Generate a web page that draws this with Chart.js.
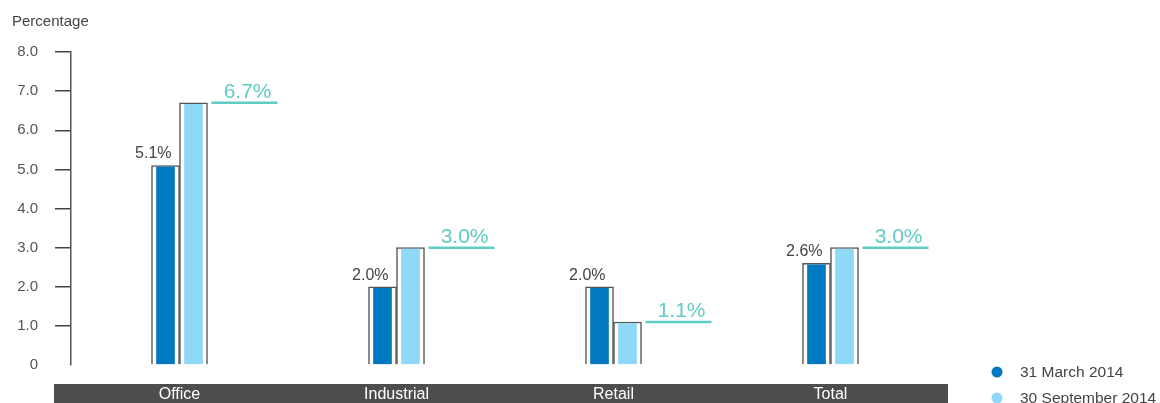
<!DOCTYPE html>
<html>
<head>
<meta charset="utf-8">
<script src="https://cdn.jsdelivr.net/npm/chart.js@4"></script>
<style>
  html, body { margin: 0; padding: 0; background: #fff; overflow: hidden; }
  canvas { display: block; }
</style>
</head>
<body>
<canvas id="chart" width="1160" height="403"></canvas>
<script>
const categories = ["Office", "Industrial", "Retail", "Total"];
const march2014 = [5.1, 2.0, 2.0, 2.6];
const september2014 = [6.7, 3.0, 1.1, 3.0];
const seriesLabels = ["31 March 2014", "30 September 2014"];
const yTickLabels = ["0", "1.0", "2.0", "3.0", "4.0", "5.0", "6.0", "7.0", "8.0"];

const darkBlue = "#0079c1";
const lightBlue = "#8fd8f7";
const teal = "#5fcdc2";
const outlineGray = "#555";
const textGray = "#555";
const FONT = "'Liberation Sans', Arial, sans-serif";

// coloured bars share a stack slot with a white outlined bar drawn underneath
const fillBorder = { top: 1.5, left: 5, right: 5, bottom: 0 };
const outlineBorder = { top: 1.5, left: 1.5, right: 1.5, bottom: 0 };

const extras = {
  id: "extras",
  beforeDraw(chart) {
    const ctx = chart.ctx;
    const area = chart.chartArea;
    ctx.save();
    ctx.fillStyle = "#4d4d4f";
    ctx.fillRect(area.left - 17, area.bottom + 19, area.right - area.left + 26, 40);
    ctx.restore();
  },
  afterDatasetsDraw(chart) {
    const ctx = chart.ctx;
    ctx.save();
    // dark series labels
    ctx.font = "16px " + FONT;
    ctx.fillStyle = "#444";
    ctx.textAlign = "right";
    ctx.textBaseline = "alphabetic";
    chart.getDatasetMeta(0).data.forEach((el, i) => {
      ctx.fillText(march2014[i].toFixed(1) + "%", el.x + 6, el.y - 7);
    });
    // light series labels with teal underline
    ctx.font = "21px " + FONT;
    ctx.fillStyle = teal;
    ctx.strokeStyle = teal;
    ctx.lineWidth = 2.5;
    chart.getDatasetMeta(1).data.forEach((el, i) => {
      const x0 = el.x + el.width / 2 + 4;
      const x1 = x0 + 66;
      ctx.beginPath();
      ctx.moveTo(x0, el.y);
      ctx.lineTo(x1, el.y);
      ctx.stroke();
      ctx.fillText(september2014[i].toFixed(1) + "%", x1 - 6, el.y - 5);
    });
    ctx.restore();
  },
  afterDraw(chart) {
    const ctx = chart.ctx;
    ctx.save();
    ctx.font = "15.5px " + FONT;
    ctx.textAlign = "left";
    ctx.textBaseline = "middle";
    [darkBlue, lightBlue].forEach((c, i) => {
      const y = 372 + i * 26;
      ctx.beginPath();
      ctx.arc(997, y, 5.5, 0, Math.PI * 2);
      ctx.fillStyle = c;
      ctx.fill();
      ctx.fillStyle = "#444";
      ctx.fillText(chart.data.datasets[i].label, 1020, y + 1);
    });
    ctx.restore();
  }
};

new Chart(document.getElementById("chart"), {
  type: "bar",
  data: {
    labels: categories,
    datasets: [
      { label: seriesLabels[0], data: march2014, stack: "a", order: 0,
        backgroundColor: darkBlue, borderColor: "rgba(0,0,0,0)", borderWidth: fillBorder, barThickness: 28 },
      { label: seriesLabels[1], data: september2014, stack: "b", order: 0,
        backgroundColor: lightBlue, borderColor: "rgba(0,0,0,0)", borderWidth: fillBorder, barThickness: 28 },
      { label: seriesLabels[0] + " outline", data: march2014, stack: "a", order: 1,
        backgroundColor: "#fff", borderColor: outlineGray, borderWidth: outlineBorder, barThickness: 28 },
      { label: seriesLabels[1] + " outline", data: september2014, stack: "b", order: 1,
        backgroundColor: "#fff", borderColor: outlineGray, borderWidth: outlineBorder, barThickness: 28 }
    ]
  },
  options: {
    responsive: false,
    animation: false,
    events: [],
    layout: { padding: { left: 12, right: 221, top: 0, bottom: 0 } },
    plugins: {
      legend: { display: false },
      tooltip: { enabled: false },
      title: {
        display: true,
        text: "Percentage",
        align: "start",
        color: "#444",
        font: { family: FONT, size: 15, weight: "normal" },
        padding: { top: 13, bottom: 21 }
      }
    },
    scales: {
      x: {
        afterFit(scale) { scale.height = 38; },
        grid: { display: false, drawTicks: false },
        border: { display: false },
        ticks: { color: "#fff", font: { family: FONT, size: 16 }, padding: 20 }
      },
      y: {
        min: 0,
        max: 8,
        stacked: false,
        afterFit(scale) { scale.width = 59; },
        ticks: {
          stepSize: 1,
          padding: 17,
          color: textGray,
          font: { family: FONT, size: 15 },
          callback: (v) => yTickLabels[v]
        },
        grid: {
          drawOnChartArea: false,
          tickLength: 16,
          lineWidth: 1.5,
          color: (c) => (c.tick && c.tick.value === 0 ? "rgba(0,0,0,0)" : "#444")
        },
        border: { display: true, color: outlineGray, width: 1.5 }
      }
    }
  },
  plugins: [extras]
});
</script>
</body>
</html>
